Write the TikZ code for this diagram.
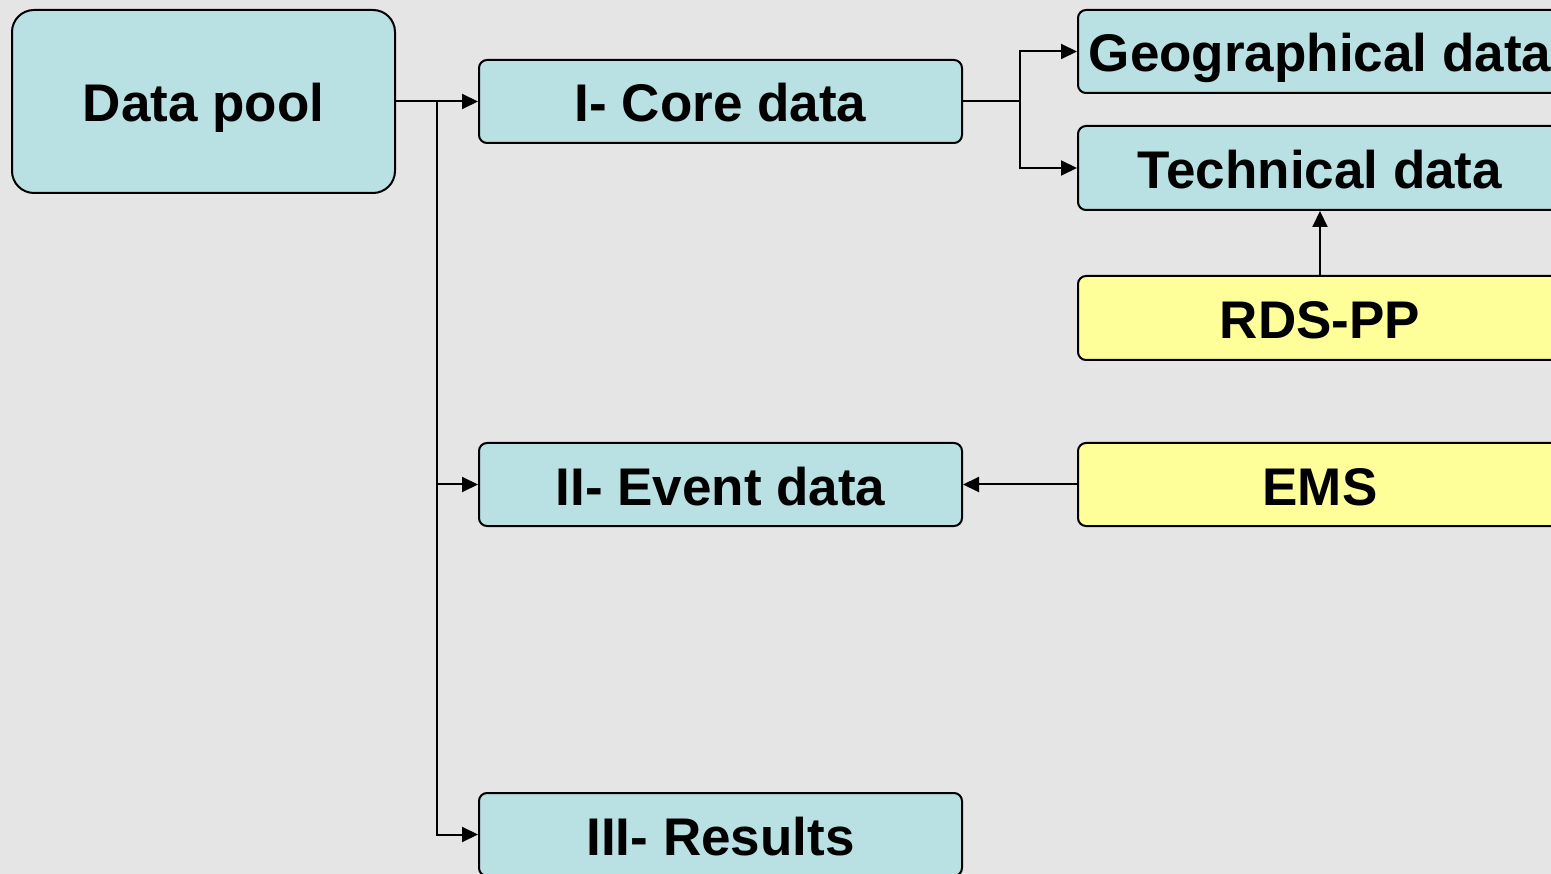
\documentclass[tikz,border=0pt]{standalone}
\usepackage{fontspec}
\setmainfont{Liberation Sans}
\usetikzlibrary{arrows.meta}
\definecolor{bgc}{HTML}{E5E5E5}
\definecolor{bluebox}{HTML}{B9E0E3}
\definecolor{yellowbox}{HTML}{FFFF99}
\tikzset{
  box/.style={draw=black, line width=2pt, fill=bluebox, rounded corners=8pt,
    inner sep=0pt, minimum width=483pt, minimum height=83pt,
    font=\fontsize{53}{60}\selectfont\bfseries, text height=41pt, text depth=0pt},
  ybox/.style={box, fill=yellowbox, minimum width=484pt},
  bigbox/.style={box, rounded corners=22pt, minimum width=383pt, minimum height=183pt},
  arr/.style={line width=2pt, -{Triangle[length=16pt,width=15pt]}},
  ln/.style={line width=2pt}
}
\begin{document}
\begin{tikzpicture}[x=1pt,y=-1pt]
\fill[bgc] (0,0) rectangle (1551,874);
\useasboundingbox (0,0) rectangle (1551,874);
\node[bigbox] (pool) at (203.5,101.5) {Data pool};
\node[box] (core) at (720.5,101.5) {I- Core data};
\node[box] (event) at (720.5,484.5) {II- Event data};
\node[box] (results) at (720.5,834.5) {III- Results};
\node[box, minimum width=484pt] (geo) at (1320,51.5) {Geographical data};
\node[box, minimum width=484pt, minimum height=84pt] (tech) at (1320,168) {Technical data};
\node[ybox, minimum height=84pt] (rds) at (1320,318) {RDS-PP};
\node[ybox] (ems) at (1320,484.5) {EMS};
\coordinate (j1) at (437,101.5);
\coordinate (j2) at (1020,101.5);
\draw[arr] (pool.east) -- (core.west);
\draw[arr] (j1) |- (event.west);
\draw[arr] (j1) |- (results.west);
\draw[ln] (core.east) -- (j2);
\draw[arr] (j2) |- (geo.west);
\draw[arr] (j2) |- (tech.west);
\draw[arr] (rds.north) -- (tech.south);
\draw[arr] (ems.west) -- (event.east);
\end{tikzpicture}
\end{document}
